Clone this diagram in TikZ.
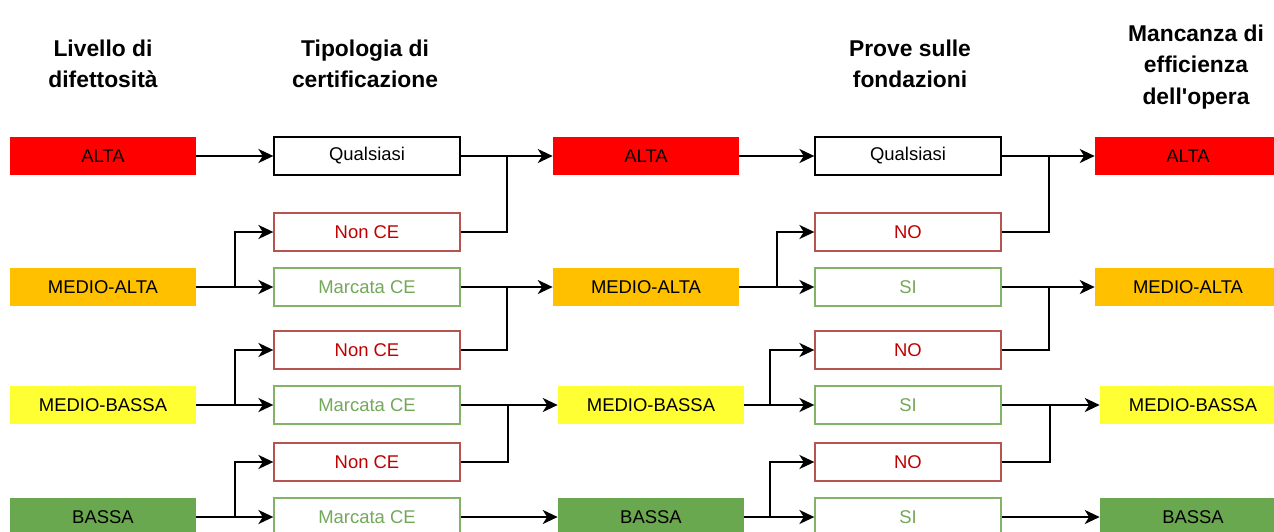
\documentclass[tikz,border=0pt]{standalone}
\usepackage{fontspec}
\setmainfont{Liberation Sans}[Ligatures=TeXOff]
\usetikzlibrary{arrows.meta}

\definecolor{lvred}{HTML}{FF0000}
\definecolor{lvorange}{HTML}{FFC000}
\definecolor{lvyellow}{HTML}{FFFF33}
\definecolor{lvgreen}{HTML}{6AA84F}
\definecolor{nored}{HTML}{B85450}
\definecolor{notext}{HTML}{C00000}
\definecolor{sigreen}{HTML}{82B366}
\definecolor{sitext}{HTML}{74A85A}

\begin{document}
\begin{tikzpicture}[x=0.02cm, y=-0.02cm,
    level/.style={minimum width=3.72cm, minimum height=0.76cm, inner sep=0pt,
                  font=\fontsize{10.5}{12}\selectfont},
    choice/.style={level, draw, line width=0.8pt, fill=white},
    nobox/.style={choice, draw=nored, text=notext},
    sibox/.style={choice, draw=sigreen, text=sitext},
    header/.style={align=center, font=\fontsize{13}{18}\selectfont\bfseries},
    link/.style={line width=1.1pt, -{Stealth[length=8.5pt,width=8pt,inset=2.5pt]}},
    joint/.style={line width=1.1pt}]

    \clip (0,0) rectangle (1274,531);

    % column headers
    \node[header] (h1) at (103,64) {Livello di\\difettosità};
    \node[header] (h2) at (365,64) {Tipologia di\\certificazione};
    \node[header] (h3) at (910,64) {Prove sulle\\fondazioni};
    \node[header] (h4) at (1196,67) {Mancanza di\\efficienza\\dell'opera};

    % livello di difettosita
    \node[level, fill=lvred] (l1) at (103,156) {ALTA};
    \node[level, fill=lvorange] (l2) at (103,287) {MEDIO-ALTA};
    \node[level, fill=lvyellow] (l3) at (103,405) {MEDIO-BASSA};
    \node[level, fill=lvgreen] (l4) at (103,517) {BASSA};

    % tipologia di certificazione
    \node[choice] (c1) at (367,156) {Qualsiasi};
    \node[nobox] (n2) at (367,232) {Non CE};
    \node[sibox] (m2) at (367,287) {Marcata CE};
    \node[nobox] (n3) at (367,350) {Non CE};
    \node[sibox] (m3) at (367,405) {Marcata CE};
    \node[nobox] (n4) at (367,462) {Non CE};
    \node[sibox] (m4) at (367,517) {Marcata CE};

    % difettosita dopo la certificazione
    \node[level, fill=lvred] (d1) at (646,156) {ALTA};
    \node[level, fill=lvorange] (d2) at (646,287) {MEDIO-ALTA};
    \node[level, fill=lvyellow] (d3) at (651,405) {MEDIO-BASSA};
    \node[level, fill=lvgreen] (d4) at (651,517) {BASSA};

    % prove sulle fondazioni
    \node[choice] (q1) at (908,156) {Qualsiasi};
    \node[nobox] (o2) at (908,232) {NO};
    \node[sibox] (s2) at (908,287) {SI};
    \node[nobox] (o3) at (908,350) {NO};
    \node[sibox] (s3) at (908,405) {SI};
    \node[nobox] (o4) at (908,462) {NO};
    \node[sibox] (s4) at (908,517) {SI};

    % mancanza di efficienza
    \node[level, fill=lvred] (e1) at (1188,156) {ALTA};
    \node[level, fill=lvorange] (e2) at (1188,287) {MEDIO-ALTA};
    \node[level, fill=lvyellow] (e3) at (1193,405) {MEDIO-BASSA};
    \node[level, fill=lvgreen] (e4) at (1193,517) {BASSA};

    % split and merge points
    \coordinate (a2) at (235,287);
    \coordinate (a3) at (235,405);
    \coordinate (a4) at (235,517);
    \coordinate (b1) at (507,156);
    \coordinate (b2) at (507,287);
    \coordinate (b3) at (508,405);
    \coordinate (f2) at (777,287);
    \coordinate (f3) at (770,405);
    \coordinate (f4) at (770,517);
    \coordinate (g1) at (1049,156);
    \coordinate (g2) at (1049,287);
    \coordinate (g3) at (1050,405);

    % first stage
    \draw[link] (l1) -- (c1);
    \draw[link] (l2) -- (m2);
    \draw[link] (a2) |- (n2);
    \draw[link] (l3) -- (m3);
    \draw[link] (a3) |- (n3);
    \draw[link] (l4) -- (m4);
    \draw[link] (a4) |- (n4);

    \draw[link] (c1) -- (d1);
    \draw[joint] (n2) -| (b1);
    \draw[link] (m2) -- (d2);
    \draw[joint] (n3) -| (b2);
    \draw[link] (m3) -- (d3);
    \draw[joint] (n4) -| (b3);
    \draw[link] (m4) -- (d4);

    % second stage
    \draw[link] (d1) -- (q1);
    \draw[link] (d2) -- (s2);
    \draw[link] (f2) |- (o2);
    \draw[link] (d3) -- (s3);
    \draw[link] (f3) |- (o3);
    \draw[link] (d4) -- (s4);
    \draw[link] (f4) |- (o4);

    \draw[link] (q1) -- (e1);
    \draw[joint] (o2) -| (g1);
    \draw[link] (s2) -- (e2);
    \draw[joint] (o3) -| (g2);
    \draw[link] (s3) -- (e3);
    \draw[joint] (o4) -| (g3);
    \draw[link] (s4) -- (e4);
\end{tikzpicture}
\end{document}
